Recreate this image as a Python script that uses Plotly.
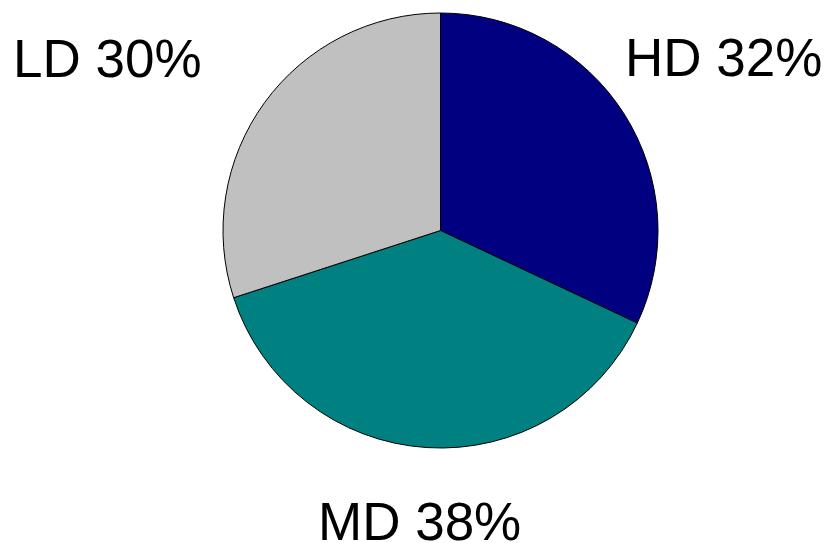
import plotly.graph_objects as go

# Share of each category
categories = ["HD", "MD", "LD"]
shares = [32, 38, 30]
colors = ["#000080", "#008080", "#C0C0C0"]

W, H = 827, 543
cx, cy, r = 440.5, 230.5, 217.5  # pie centre and radius in pixels

fig = go.Figure(
    go.Pie(
        labels=categories,
        values=shares,
        sort=False,
        direction="clockwise",
        rotation=0,
        textinfo="none",
        hoverinfo="label+percent",
        marker=dict(colors=colors, line=dict(color="black", width=1)),
        domain=dict(
            x=[(cx - r) / W, (cx + r) / W],
            y=[1 - (cy + r) / H, 1 - (cy - r) / H],
        ),
        showlegend=False,
    )
)

# Outside labels: (x centre, y centre) in pixels
label_pos = {"HD": (723.5, 58), "MD": (419, 521), "LD": (107.5, 58.5)}
for cat, val in zip(categories, shares):
    px, py = label_pos[cat]
    fig.add_annotation(
        text=f"{cat} {val}%",
        x=px / W,
        y=1 - py / H,
        xref="paper",
        yref="paper",
        xanchor="center",
        yanchor="middle",
        showarrow=False,
        font=dict(family="Liberation Sans, Arial, sans-serif", size=53, color="black"),
    )

fig.update_layout(
    width=W,
    height=H,
    margin=dict(l=0, r=0, t=0, b=0),
    paper_bgcolor="white",
    plot_bgcolor="white",
)

fig.write_html("out.html")
